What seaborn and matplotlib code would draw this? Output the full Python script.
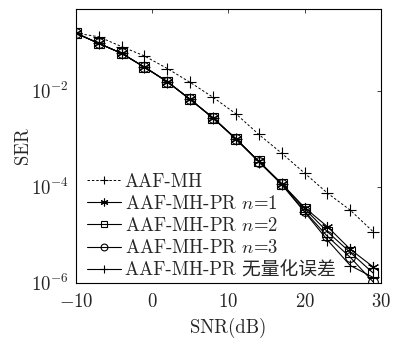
import matplotlib
matplotlib.use("Agg")
import matplotlib.pyplot as plt
import seaborn as sns
import numpy as np

snr = [-10, -7, -4, -1, 2, 5, 8, 11, 14, 17, 20, 23, 26, 29]
aaf_mh = [0.158, 0.133, 0.083, 0.053, 0.029, 0.0149, 0.0073, 0.0033,
          0.00123, 5.0e-4, 1.93e-4, 7.4e-5, 3.26e-5, 1.16e-5]
pr_n1 = [0.158, 0.097, 0.060, 0.031, 0.0154, 0.0066, 0.00272, 1.0e-3,
         3.4e-4, 1.17e-4, 3.7e-5, 1.48e-5, 5.0e-6, 2.15e-6]
pr_n2 = [0.158, 0.097, 0.060, 0.031, 0.0154, 0.0066, 0.00272, 1.0e-3,
         3.4e-4, 1.16e-4, 3.5e-5, 1.16e-5, 4.3e-6, 1.6e-6]
pr_n3 = [0.158, 0.097, 0.060, 0.031, 0.0154, 0.0066, 0.00270, 0.99e-3,
         3.35e-4, 1.14e-4, 3.1e-5, 9.3e-6, 3.4e-6, 1.05e-6]
pr_nq = [0.158, 0.097, 0.060, 0.031, 0.0154, 0.0066, 0.00268, 0.98e-3,
         3.3e-4, 1.12e-4, 3.0e-5, 7.8e-6, 2.3e-6, 1.3e-6]

labels = ["AAF-MH", "AAF-MH-PR $n$=1", "AAF-MH-PR $n$=2",
          "AAF-MH-PR $n$=3", "AAF-MH-PR 无量化误差"]
xticks = [-10, 0, 10, 20, 30]
yticks = [1e-6, 1e-4, 1e-2]

sns.set_style("white")
plt.rcParams["font.family"] = ["cmr10", "Noto Sans CJK SC"]
plt.rcParams["mathtext.fontset"] = "cm"
plt.rcParams["axes.formatter.use_mathtext"] = True
plt.rcParams["axes.unicode_minus"] = True

FS = 13.5

fig = plt.figure(figsize=(3.93, 3.38), dpi=100)
ax = fig.add_axes([0.193, 0.163, 0.776, 0.810])

common = dict(ax=ax, color="black", markerfacecolor="none",
              markeredgecolor="black")
sns.lineplot(x=snr, y=aaf_mh, marker="+", markersize=9, linewidth=0.7,
             linestyle=(0, (2.5, 2)), markeredgewidth=0.8,
             label=labels[0], **common)
sns.lineplot(x=snr, y=pr_n1, marker=(6, 2, 0), markersize=8, linewidth=0.8,
             markeredgewidth=0.8, label=labels[1], **common)
sns.lineplot(x=snr, y=pr_n2, marker="s", markersize=7, linewidth=0.8,
             markeredgewidth=0.8, label=labels[2], **common)
sns.lineplot(x=snr, y=pr_n3, marker="o", markersize=7, linewidth=0.8,
             markeredgewidth=0.8, label=labels[3], **common)
sns.lineplot(x=snr, y=pr_nq, marker="+", markersize=9, linewidth=0.8,
             markeredgewidth=0.8, label=labels[4], **common)

ax.set_yscale("log")
ax.set_xlim(-10, 30)
ax.set_ylim(1e-6, 0.5)
ax.set_xticks(xticks)
ax.set_yticks(yticks)
ax.yaxis.set_minor_locator(matplotlib.ticker.NullLocator())
ax.tick_params(direction="in", top=True, right=True, length=3, width=0.6,
               labelsize=FS)
ax.tick_params(axis="x", pad=7)
ax.tick_params(axis="y", pad=5)
for s in ax.spines.values():
    s.set_linewidth(0.8)
    s.set_color("black")

ax.set_xlabel("SNR(dB)", fontsize=FS, labelpad=5)
ax.set_ylabel("SER", fontsize=FS, labelpad=-1)

leg = ax.legend(loc="lower left", frameon=False,
                prop={"size": FS, "weight": "light"},
                handlelength=1.8, handletextpad=0.2, labelspacing=0.22,
                borderaxespad=0.0, borderpad=0.2, markerscale=0.7,
                bbox_to_anchor=(0.025, 0.0))

fig.savefig("out.png", dpi=100)
